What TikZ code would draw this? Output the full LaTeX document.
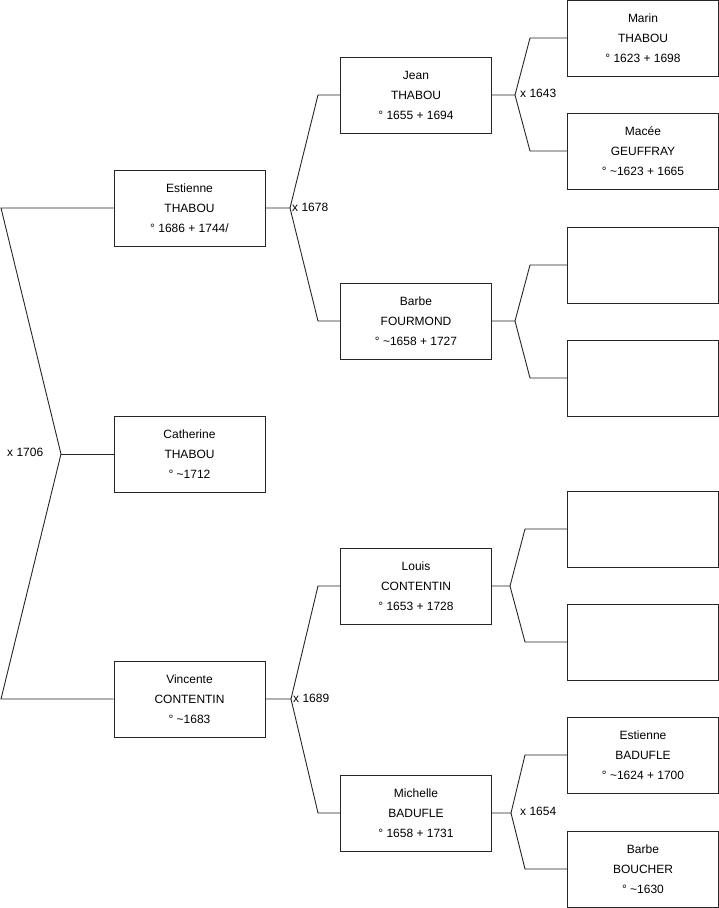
\documentclass[tikz,border=0pt]{standalone}
\usepackage{fontspec}
\setmainfont{Liberation Sans}
\begin{document}
\begin{tikzpicture}[x=1pt,y=-1pt,
  person/.style={draw=black!85,line width=0.9pt,minimum width=151pt,minimum height=76pt,inner sep=0pt,align=center,font=\fontsize{12}{20}\selectfont},
  link/.style={draw=black!85,line width=0.9pt},
  lbl/.style={font=\fontsize{12}{14}\selectfont,inner sep=0pt}]
\useasboundingbox (0,0) rectangle (719,908);
% generation 1
\node[person] (est) at (189.5,208) {Estienne\\THABOU\\° 1686 + 1744/};
\node[person] (cat) at (189.5,454) {Catherine\\THABOU\\° \textasciitilde1712};
\node[person] (vin) at (189.5,699) {Vincente\\CONTENTIN\\° \textasciitilde1683};
% generation 2
\node[person] (jean) at (416,95) {Jean\\THABOU\\° 1655 + 1694};
\node[person] (barf) at (416,321) {Barbe\\FOURMOND\\° \textasciitilde1658 + 1727};
\node[person] (lou) at (416,586) {Louis\\CONTENTIN\\° 1653 + 1728};
\node[person] (mic) at (416,813) {Michelle\\BADUFLE\\° 1658 + 1731};
% generation 3
\node[person] (mar) at (643,38) {Marin\\THABOU\\° 1623 + 1698};
\node[person] (mac) at (643,151) {Macée\\GEUFFRAY\\° \textasciitilde1623 + 1665};
\node[person] (e1) at (643,265) {};
\node[person] (e2) at (643,378) {};
\node[person] (e3) at (643,529) {};
\node[person] (e4) at (643,642) {};
\node[person] (estb) at (643,755) {Estienne\\BADUFLE\\° \textasciitilde1624 + 1700};
\node[person] (barb) at (643,869) {Barbe\\BOUCHER\\° \textasciitilde1630};
% left bracket
\coordinate (a1) at (1,208);
\coordinate (av) at (61,454);
\coordinate (a2) at (1,699);
\draw[link] (est.west) -- (a1) -- (av) -- (a2) -- (vin.west);
\draw[link] (av) -- (cat.west);
\node[lbl,anchor=west] (x1706) at (7,452) {x 1706};
% Estienne parents
\coordinate (bv) at (290,208);
\coordinate (b1) at (318,95);
\coordinate (b2) at (318,321);
\draw[link] (est.east) -- (bv) -- (b1) -- (jean.west);
\draw[link] (bv) -- (b2) -- (barf.west);
\node[lbl,anchor=west] (x1678) at (292,207) {x 1678};
% Jean parents
\coordinate (cv) at (515,95);
\coordinate (c1) at (530,38);
\coordinate (c2) at (530,151);
\draw[link] (jean.east) -- (cv) -- (c1) -- (mar.west);
\draw[link] (cv) -- (c2) -- (mac.west);
\node[lbl,anchor=west] (x1643) at (520,93) {x 1643};
% Barbe parents
\coordinate (dv) at (515,321);
\coordinate (d1) at (530,265);
\coordinate (d2) at (530,378);
\draw[link] (barf.east) -- (dv) -- (d1) -- (e1.west);
\draw[link] (dv) -- (d2) -- (e2.west);
% Vincente parents
\coordinate (fv) at (291,699);
\coordinate (f1) at (318,586);
\coordinate (f2) at (318,813);
\draw[link] (vin.east) -- (fv) -- (f1) -- (lou.west);
\draw[link] (fv) -- (f2) -- (mic.west);
\node[lbl,anchor=west] (x1689) at (293,698) {x 1689};
% Louis parents
\coordinate (gv) at (510,586);
\coordinate (g1) at (525,529);
\coordinate (g2) at (525,642);
\draw[link] (lou.east) -- (gv) -- (g1) -- (e3.west);
\draw[link] (gv) -- (g2) -- (e4.west);
% Michelle parents
\coordinate (hv) at (511,813);
\coordinate (h1) at (525,755);
\coordinate (h2) at (525,869);
\draw[link] (mic.east) -- (hv) -- (h1) -- (estb.west);
\draw[link] (hv) -- (h2) -- (barb.west);
\node[lbl,anchor=west] (x1654) at (520,811) {x 1654};
\end{tikzpicture}
\end{document}
